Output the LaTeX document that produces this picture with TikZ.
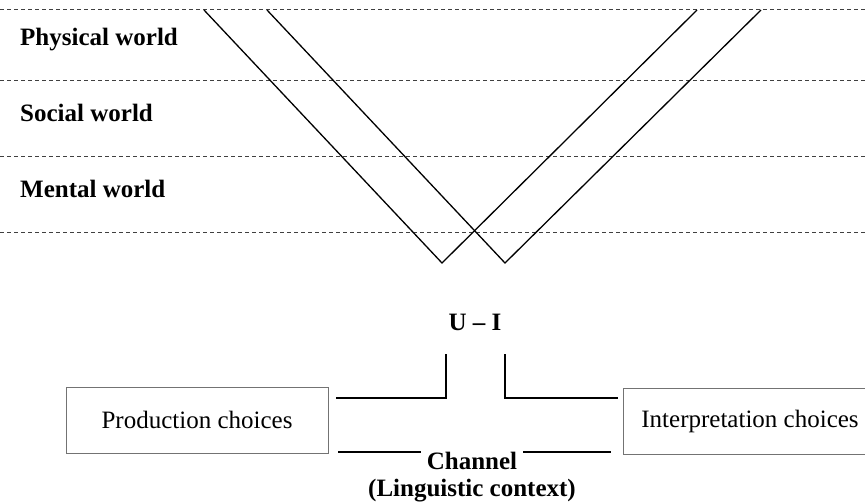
\documentclass[tikz,border=0pt]{standalone}
\usepackage{fontspec}
\setmainfont{Liberation Serif}
\usetikzlibrary{positioning, calc}

\tikzset{
  world/.style={anchor=west, inner sep=0pt, font=\fontsize{25}{30}\selectfont\bfseries},
  choice/.style={draw=black!55, line width=1pt, minimum height=66pt, inner sep=0pt,
    font=\fontsize{25}{30}\selectfont},
  label/.style={inner sep=0pt, font=\fontsize{25}{30}\selectfont\bfseries},
  layer/.style={dash pattern=on 4pt off 3pt, line width=1pt, black!75},
  route/.style={line width=1.3pt},
  link/.style={line width=1.5pt},
}

\begin{document}
\begin{tikzpicture}[x=1pt, y=-1pt]
\useasboundingbox (0,0) rectangle (865,503);

% world layers
\foreach \ly in {10,81,156,232}
  \draw[layer] (0,\ly) -- (865,\ly);
\node[world] (physical) at (20,40) {Physical world};
\node[world] (social) at (20,113) {Social world};
\node[world] (mental) at (20,189) {Mental world};

% speaker and hearer paths
\coordinate (ua) at (204,10);
\coordinate (ub) at (442,263);
\coordinate (uc) at (697,10);
\coordinate (ia) at (267,10);
\coordinate (ib) at (505,263);
\coordinate (ic) at (761,10);
\draw[route] (ua) -- (ub) -- (uc);
\draw[route] (ia) -- (ib) -- (ic);

\node[label] (ui) at (475,322) {U -- I};

% choices
\node[choice, minimum width=262pt] (prod) at (197,420) {Production choices};
\node[choice, minimum width=254pt] (interp) at (750,421) {Interpretation choices};

% channel
\node[label, inner xsep=6pt] (chan) at (472,461) {Channel};
\node[label, below=9pt of chan] (ling) {(Linguistic context)};

\coordinate (lt) at (446,354);
\coordinate (lb) at (336,398);
\coordinate (rt) at (505,354);
\coordinate (rb) at (618,398);
\draw[link] (lt) |- (lb);
\draw[link] (rt) |- (rb);

\coordinate (cl) at (338,452);
\coordinate (cr) at (611,452);
\draw[link] (cl) -- (cl -| chan.west);
\draw[link] (chan.east |- cr) -- (cr);
\end{tikzpicture}
\end{document}
